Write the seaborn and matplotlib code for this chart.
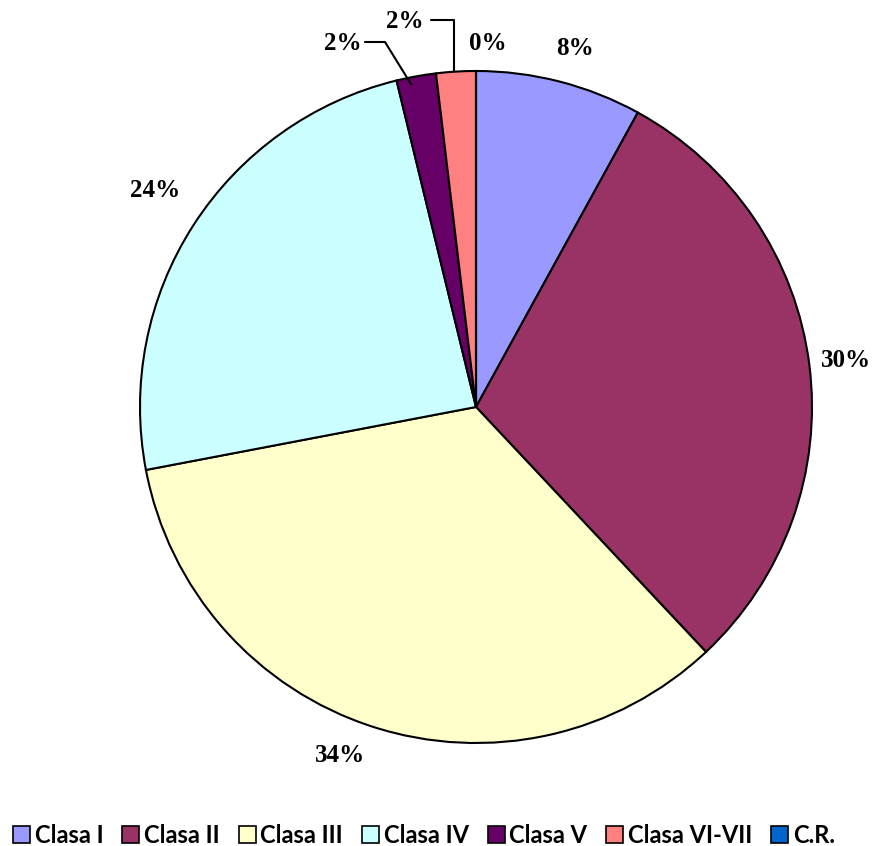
import numpy as np
import matplotlib
matplotlib.use("Agg")
import matplotlib.pyplot as plt
import seaborn as sns

# data (percent of total)
categories = ["Clasa I", "Clasa II", "Clasa III", "Clasa IV", "Clasa V", "Clasa VI-VII", "C.R."]
values = [8.0, 30.0, 34.0, 24.2, 1.9, 1.9, 0.0]
colors = ["#9999FF", "#993366", "#FFFFCC", "#CCFFFF", "#660066", "#FF8080", "#0066CC"]

sns.set_style("white")
plt.rcParams["font.family"] = ["Liberation Serif", "DejaVu Sans"]
plt.rcParams["text.color"] = "black"

W, H = 873, 846
fig = plt.figure(figsize=(W / 100, H / 100), dpi=100)
ax = fig.add_axes([0, 0, 1, 1])
cx, cy, R = 476, 407, 336

wedges, _ = ax.pie(values, colors=colors, startangle=90, counterclock=False,
                   radius=R, center=(0, 0), frame=True,
                   wedgeprops=dict(edgecolor="black", linewidth=1.5))
ax.set_xlim(-cx, W - cx)
ax.set_ylim(-(H - cy), cy)
ax.set_aspect("auto")
ax.axis("off")

total = sum(values)
cum = np.cumsum([0] + values)
label_font = dict(fontsize=18, fontweight="bold", ha="center", va="center", color="black")
# small nudges (degrees, distance factor) to follow the original label placement
nudge = {"Clasa I": (1, 1.108), "Clasa II": (0, 1.11), "Clasa III": (3.3, 1.113),
         "Clasa IV": (1.3, 1.152)}
for i, v in enumerate(values):
    mid = 90 - 360 * (cum[i] + v / 2) / total
    th = np.deg2rad(mid)
    txt = f"{v:.0f}%"
    if categories[i] == "Clasa V":
        ex, ey = R * np.cos(th), R * np.sin(th)
        ax.plot([ex - 5, -91, -111], [ey - 8, 365, 365], color="black", lw=1.5)
        ax.text(-133, 364, txt, **label_font)
    elif categories[i] == "Clasa VI-VII":
        ex = R * np.cos(th)
        ax.plot([ex - 2, ex - 2, ex - 25], [R, 387, 387], color="black", lw=1.5)
        ax.text(-71, 386, txt, **label_font)
    elif categories[i] == "C.R.":
        ax.text(12, 364, txt, **label_font)
    else:
        da, f = nudge[categories[i]]
        th = np.deg2rad(mid - da)
        d = f * R
        ax.text(d * np.cos(th), d * np.sin(th), txt, **label_font)

handles = [plt.Rectangle((0, 0), 1, 1, facecolor=c, edgecolor="black", linewidth=1.2)
           for c in colors]
fig.legend(handles, categories, loc="center", bbox_to_anchor=(424 / W, (H - 835) / H),
           ncol=7, frameon=False, handlelength=0.72, handleheight=0.72,
           handletextpad=0.2, columnspacing=0.8,
           prop=dict(family="Lato", weight="bold", size=17), labelcolor="black")

fig.savefig("out.png", dpi=100)
